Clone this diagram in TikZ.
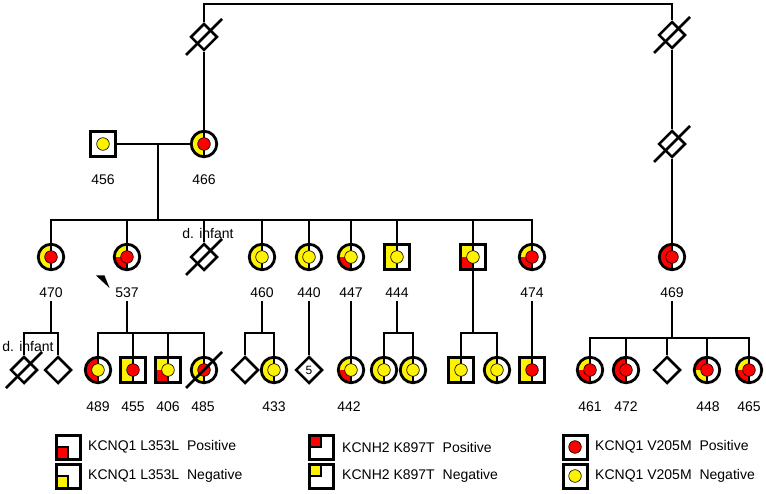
\documentclass[tikz,border=0pt]{standalone}
\usepackage{fontspec}
\setmainfont{Liberation Sans}
\usetikzlibrary{shapes.geometric}
\tikzset{
	% ------- every something
	every node/.style={
		font=\fontsize{14}{16}\selectfont,
	},
	% ------- custom
	line/.style={
		line width=2.5pt,
	},
	slash/.style={
		line width=2.5pt,
	},
	female/.style={
		circle, draw, line width=2.8pt, minimum size=25.5pt, inner sep=0pt, fill=white,
	},
	male/.style={
		rectangle, draw, line width=2.8pt, minimum size=24.5pt, inner sep=0pt, fill=white,
	},
	unknown/.style={
		diamond, draw, line width=2.5pt, minimum size=27pt, inner sep=0pt, fill=white,
	},
	geno/.style n args={3}{
		path picture={
			\fill[#1] (path picture bounding box.center) rectangle (path picture bounding box.north west);
			\fill[#2] (path picture bounding box.center) rectangle (path picture bounding box.south west);
			\draw[line width=2.3pt] (path picture bounding box.north) -- (path picture bounding box.south);
			\filldraw[fill=#3, draw=black, line width=0.6pt] (path picture bounding box.center) circle (6.3pt);
		},
	},
	dotonly/.style={
		path picture={
			\filldraw[fill=#1, draw=black, line width=0.6pt] (path picture bounding box.center) circle (6.3pt);
		},
	},
	key/.style={
		rectangle, draw, line width=3pt, minimum size=24pt, inner sep=0pt, fill=white,
	},
	keyLL/.style={
		path picture={
			\filldraw[fill=#1, draw=black, line width=2.4pt] (path picture bounding box.center) rectangle (path picture bounding box.south west);
		},
	},
	keyUL/.style={
		path picture={
			\filldraw[fill=#1, draw=black, line width=2.4pt] (path picture bounding box.center) rectangle (path picture bounding box.north west);
		},
	},
	keytext/.style={
		anchor=west, inner sep=0pt,
	},
}

\begin{document}
\begin{tikzpicture}[x=1pt, y=-1pt]

% frame %{{{1

	\useasboundingbox (0,0) rectangle (766,494);

% coordinates %{{{1

	\coordinate (topL) at (204,4);
	\coordinate (topR) at (672,4);
	\coordinate (mate) at (158,144);
	\coordinate (sibII) at (158,220);
	\coordinate (sib470) at (51,333);
	\coordinate (sib537) at (127,333);
	\coordinate (sib460) at (262,333);
	\coordinate (sib444) at (397,333);
	\coordinate (sibX) at (473,333);
	\coordinate (sib469) at (672,338);

% generation I %{{{1

	\node[unknown] (gA) at (204,37) {};
	\node[unknown] (gB) at (672,35) {};
	\node[unknown] (gC) at (672,144) {};

	\node[male, dotonly=yellow] (i456) at (103,144) {};
	\node[female, geno={yellow}{yellow}{red}] (i466) at (204,144) {};

% generation II %{{{1

	\node[female, geno={yellow}{yellow}{red}] (i470) at (51,257) {};
	\node[female, geno={yellow}{red}{red}] (i537) at (127,257) {};
	\node[unknown] (dInfA) at (204,257) {};
	\node[female, geno={yellow}{yellow}{yellow}] (i460) at (262,257) {};
	\node[female, geno={yellow}{yellow}{yellow}] (i440) at (309,257) {};
	\node[female, geno={yellow}{red}{yellow}] (i447) at (351,257) {};
	\node[male, geno={yellow}{yellow}{yellow}] (i444) at (397,257) {};
	\node[male, geno={yellow}{red}{yellow}] (mX) at (473,257) {};
	\node[female, geno={yellow}{red}{red}] (i474) at (532,257) {};
	\node[female, geno={red}{red}{red}] (i469) at (672,257) {};

% generation III %{{{1

	\node[unknown] (dInfB) at (24,370) {};
	\node[unknown] (unkA) at (58,370) {};

	\node[female, geno={red}{red}{yellow}] (i489) at (98,370) {};
	\node[male, geno={yellow}{yellow}{red}] (i455) at (133,370) {};
	\node[male, geno={yellow}{red}{yellow}] (i406) at (168,370) {};
	\node[female, geno={yellow}{yellow}{red}] (i485) at (204,370) {};

	\node[unknown] (unkB) at (245,370) {};
	\node[female, geno={yellow}{yellow}{yellow}] (i433) at (274,370) {};

	\node[unknown, font=\fontsize{12}{14}\selectfont] (unkC) at (309,370) {5};

	\node[female, geno={yellow}{red}{yellow}] (i442) at (351,370) {};

	\node[female, geno={yellow}{yellow}{yellow}] (f444a) at (384,370) {};
	\node[female, geno={yellow}{yellow}{yellow}] (f444b) at (413,370) {};

	\node[male, geno={yellow}{yellow}{yellow}] (mXa) at (461,370) {};
	\node[female, geno={yellow}{yellow}{yellow}] (fXb) at (497,370) {};

	\node[male, geno={yellow}{yellow}{red}] (m474a) at (532,370) {};

	\node[female, geno={yellow}{red}{red}] (i461) at (590,370) {};
	\node[female, geno={red}{red}{red}] (i472) at (626,370) {};
	\node[unknown] (unkD) at (667,370) {};
	\node[female, geno={red}{yellow}{red}] (i448) at (707,370) {};
	\node[female, geno={yellow}{red}{red}] (i465) at (749,370) {};

% labels %{{{1

	\node (l456) at (103,180) {456};
	\node (l466) at (204,180) {466};

	\node (l470) at (51,293) {470};
	\node (l537) at (127,293) {537};
	\node (l460) at (262,293) {460};
	\node (l440) at (309,293) {440};
	\node (l447) at (351,293) {447};
	\node (l444) at (397,293) {444};
	\node (l474) at (532,293) {474};
	\node (l469) at (672,293) {469};

	\node (l489) at (98,407) {489};
	\node (l455) at (133,407) {455};
	\node (l406) at (168,407) {406};
	\node (l485) at (203,407) {485};
	\node (l433) at (274,407) {433};
	\node (l442) at (349,407) {442};
	\node (l461) at (590,407) {461};
	\node (l472) at (626,407) {472};
	\node (l448) at (708,407) {448};
	\node (l465) at (749,407) {465};

% lines of descent %{{{1

	\draw[line] (gA.north) -- (topL) -- (topR) -- (gB.north);
	\draw[line] (gA.south) -- (i466.north);
	\draw[line] (gB.south) -- (gC.north);
	\draw[line] (gC.south) -- (i469.north);

	\draw[line] (i456) -- (i466);
	\draw[line] (mate) -- (sibII);
	\draw[line] (i470.north) |- (sibII) -| (i474.north);
	\foreach \k in {i537,dInfA,i460,i440,i447,i444,mX}
		\draw[line] (\k.north) -- (\k.north |- sibII);

	\draw[line] (l470.south) -- (sib470);
	\draw[line] (dInfB.north) |- (sib470) -| (unkA.north);

	\draw[line] (l537.south) -- (sib537);
	\draw[line] (i489.north) |- (sib537) -| (i485.north);
	\foreach \k in {i455,i406}
		\draw[line] (\k.north) -- (\k.north |- sib537);

	\draw[line] (l460.south) -- (sib460);
	\draw[line] (unkB.north) |- (sib460) -| (i433.north);

	\draw[line] (l440.south) -- (unkC.north);
	\draw[line] (l447.south) -- (i442.north);

	\draw[line] (l444.south) -- (sib444);
	\draw[line] (f444a.north) |- (sib444) -| (f444b.north);

	\draw[line] (mX.south) -- (sibX);
	\draw[line] (mXa.north) |- (sibX) -| (fXb.north);

	\draw[line] (l474.south) -- (m474a.north);

	\draw[line] (l469.south) -- (sib469);
	\draw[line] (i461.north) |- (sib469) -| (i465.north);
	\foreach \k in {i472,unkD,i448}
		\draw[line] (\k.north) -- (\k.north |- sib469);

% deceased %{{{1

	\foreach \k in {gA,gB,gC,dInfA,dInfB,i485}
		\draw[slash] ([shift={(-18,18)}]\k.center) -- ([shift={(18,-18)}]\k.center);

	\node (tInfA) at (208,233) {d. infant};
	\node (tInfB) at (28,346) {d. infant};

% proband %{{{1

	\fill (96,275.5) -- (104.5,275.5) -- (109.5,288) -- cycle;

% legend %{{{1

	\node[key, keyLL=red] (kL1) at (68,447) {};
	\node[key, keyLL=yellow] (kL2) at (68,476) {};
	\node[keytext] (tL1) at (88,447) {KCNQ1 L353L\hspace{4pt} Positive};
	\node[keytext] (tL2) at (88,476) {KCNQ1 L353L\hspace{4pt} Negative};

	\node[key, keyUL=red] (kH1) at (321,447) {};
	\node[key, keyUL=yellow] (kH2) at (321,476) {};
	\node[keytext] (tH1) at (342,447) {KCNH2 K897T\hspace{4pt} Positive};
	\node[keytext] (tH2) at (342,476) {KCNH2 K897T\hspace{4pt} Negative};

	\node[key, dotonly=red] (kV1) at (575,447) {};
	\node[key, dotonly=yellow] (kV2) at (575,476) {};
	\node[keytext] (tV1) at (595,447) {KCNQ1 V205M\hspace{4pt} Positive};
	\node[keytext] (tV2) at (595,476) {KCNQ1 V205M\hspace{4pt} Negative};

% closing %{{{1

\end{tikzpicture}
\end{document}
